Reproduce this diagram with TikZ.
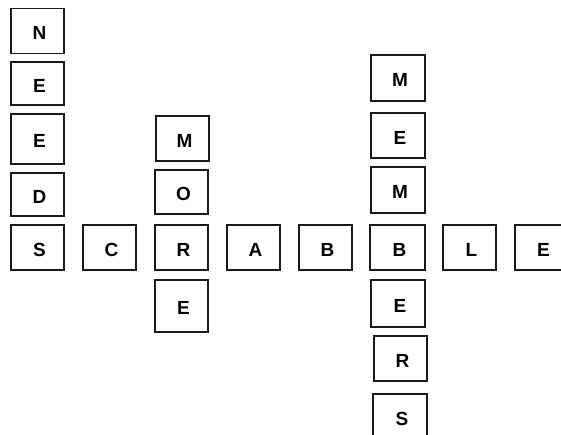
\documentclass[tikz,border=0pt]{standalone}
\usepackage{fontspec}
\setmainfont{Liberation Sans}
\usepackage{tikz}
\definecolor{TileEdge}{HTML}{1A1A1A}
\tikzset{
  tile/.style={draw=TileEdge, line width=1.6pt, fill=white,
    minimum width=53pt, minimum height=45pt, inner sep=0pt,
    text height=17.5pt, text depth=0pt,
    execute at begin node={\hspace*{4pt}},
    font=\fontsize{19}{22}\selectfont\bfseries}
}

\begin{document}
\begin{tikzpicture}[x=1pt,y=-1pt]
  \useasboundingbox (0,0) rectangle (561,435);
  % NEEDS, down the left edge
  \node[tile] (needsN) at (37.5,31) {N};
  \node[tile, minimum height=43pt] (needsE) at (37.5,83.5) {E};
  \node[tile, minimum height=50pt] (needsEE) at (37.5,139) {E};
  \node[tile, minimum height=43pt] (needsD) at (37.5,194.5) {D};
  % SCRABBLE, the long row
  \node[tile] (rowS) at (37.5,247.5) {S};
  \node[tile] (rowC) at (109.5,247.5) {C};
  \node[tile] (rowR) at (181.5,247.5) {R};
  \node[tile] (rowA) at (253.5,247.5) {A};
  \node[tile] (rowB) at (325.5,247.5) {B};
  \node[tile, minimum width=55pt] (rowBB) at (397.5,247.5) {B};
  \node[tile] (rowL) at (469.5,247.5) {L};
  \node[tile] (rowE) at (541.5,247.5) {E};
  % MORE
  \node[tile] (moreM) at (182.5,138.5) {M};
  \node[tile, minimum height=44pt] (moreO) at (181.5,192) {O};
  \node[tile, minimum height=52pt] (moreE) at (181.5,306) {E};
  % MEMBERS
  \node[tile, minimum width=54pt, minimum height=46pt] (memM) at (398,78) {M};
  \node[tile, minimum width=54pt] (memE) at (398,135.5) {E};
  \node[tile, minimum width=54pt, minimum height=46pt] (memMM) at (398,190) {M};
  \node[tile, minimum width=54pt, minimum height=47pt] (memE2) at (398,303.5) {E};
  \node[tile] (memR) at (400.5,358.5) {R};
  \node[tile, minimum width=54pt, minimum height=46pt] (memS) at (400,417) {S};
\end{tikzpicture}
\end{document}
